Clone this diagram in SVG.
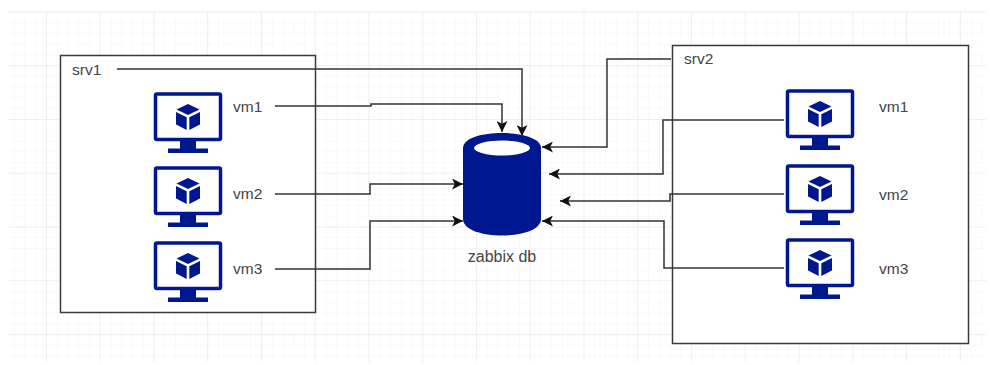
<svg xmlns="http://www.w3.org/2000/svg" width="990" height="365" viewBox="0 0 990 365">
<style>
text{font-family:"Liberation Sans",Arial,sans-serif;font-size:15.500px;fill:#444}
.box{fill:#fff;stroke:#3a3a3a;stroke-width:1.500}
.c{fill:none;stroke:#333;stroke-width:1.500;marker-end:url(#a)}
.m{fill:#fff;stroke:#00188f;stroke-width:3.500}
.b{fill:#00188f}
</style>
<defs>
<marker id="a" markerUnits="userSpaceOnUse" markerWidth="12" markerHeight="11" refX="11" refY="5.500" orient="auto"><path d="M0 0L11 5.500L0 11L2.800 5.500Z" fill="#111"/></marker>
<pattern id="g1" x="46" y="11.500" width="10.750" height="10.750" patternUnits="userSpaceOnUse"><path d="M10.750 0H0V10.750" fill="none" stroke="#f3f3f3" stroke-width="1"/></pattern>
<pattern id="g2" x="46" y="11.500" width="53.750" height="53.750" patternUnits="userSpaceOnUse"><path d="M53.750 0H0V53.750" fill="none" stroke="#e6e6e6" stroke-width="1"/></pattern>
<g id="vm">
<rect class="m" x="-32.500" y="-29" width="65" height="45.500" rx="1.500"/>
<path class="b" d="M-8 17H8V25.500H20V30H-20V25.500H-8Z"/>
<path class="b" d="M0-19L11.500-13.500L0-8L-11.500-13.500Z"/>
<path class="b" d="M-12-11L-1.300-5.800V7L-12 1.500Z"/>
<path class="b" d="M12-11L1.300-5.800V7L12 1.500Z"/>
</g>
</defs>
<rect width="990" height="365" fill="#fff"/>
<rect x="8" y="11" width="978" height="351" fill="url(#g1)"/>
<rect x="8" y="11" width="978" height="351" fill="url(#g2)"/>
<g id="srv1"><rect class="box" x="60.500" y="55.500" width="255" height="257"/><text x="72" y="75">srv1</text></g>
<g id="srv2"><rect class="box" x="672.500" y="45.500" width="296" height="298"/><text x="684" y="64">srv2</text></g>
<g id="db">
<path class="b" d="M463 148C463 128 541 128 541 148V219C541 241 463 241 463 219Z"/>
<ellipse cx="502" cy="148" rx="28" ry="7.500" fill="#fff"/>
<text x="502" y="262" text-anchor="middle" style="font-size:16px">zabbix db</text>
</g>
<g id="s1vm1"><use href="#vm" x="188" y="123"/><text x="233" y="112">vm1</text></g>
<g id="s1vm2"><use href="#vm" x="188" y="197"/><text x="233" y="199">vm2</text></g>
<g id="s1vm3"><use href="#vm" x="188" y="272"/><text x="233" y="274">vm3</text></g>
<g id="s2vm1"><use href="#vm" x="820" y="120"/><text x="879" y="112">vm1</text></g>
<g id="s2vm2"><use href="#vm" x="820" y="195"/><text x="879" y="200">vm2</text></g>
<g id="s2vm3"><use href="#vm" x="820" y="269"/><text x="879" y="274">vm3</text></g>
<g id="connectors">
<path class="c" d="M117 69H522V136"/>
<path class="c" d="M275 106H371V104H502V132"/>
<path class="c" d="M275 194H370V184H463"/>
<path class="c" d="M275 269H370V221H463"/>
<path class="c" d="M671 59H607V147H542"/>
<path class="c" d="M784 120H663V174H549"/>
<path class="c" d="M784 194H670V201H560"/>
<path class="c" d="M784 268H664V221H542"/>
</g>
</svg>
